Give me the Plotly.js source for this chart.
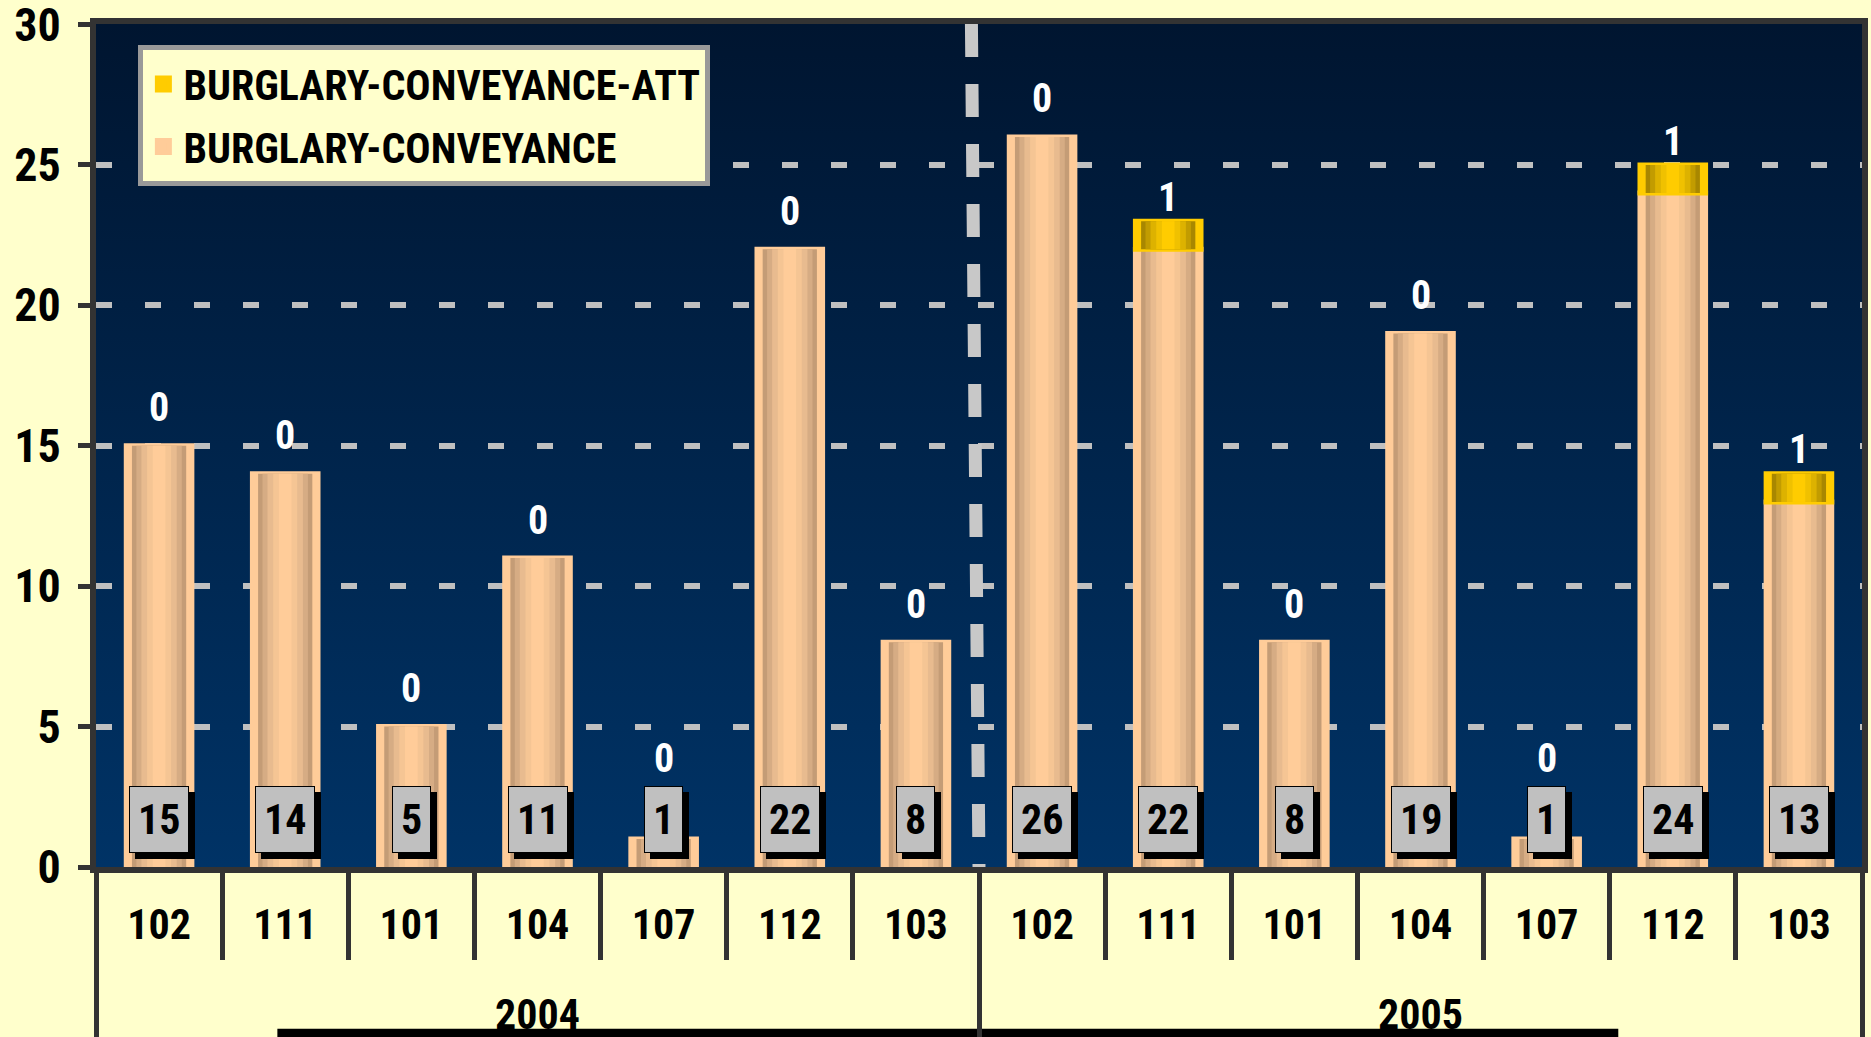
<!DOCTYPE html>
<html><head><meta charset="utf-8">
<script src="https://cdn.plot.ly/plotly-3.0.1.min.js"></script>
<style>html,body{margin:0;padding:0;background:#FFFFCC;} #chart{width:1871px;height:1037px;}
.annotation rect.bg{filter:drop-shadow(6px 6px 0 #000000);}</style>
</head><body><div id="chart"></div>
<script>
// ---- data ----
const years = ['2004','2004','2004','2004','2004','2004','2004','2005','2005','2005','2005','2005','2005','2005'];
const stations = ['102','111','101','104','107','112','103','102','111','101','104','107','112','103'];
const conveyance = [15,14,5,11,1,22,8,26,22,8,19,1,24,13];
const conveyanceAtt = [0,0,0,0,0,0,0,0,1,0,0,0,1,1];
const seriesNames = ['BURGLARY-CONVEYANCE-ATT','BURGLARY-CONVEYANCE'];
const yTickVals = [0,5,10,15,20,25,30];

// ---- style ----
const FONT = '"Roboto Condensed", "Liberation Sans Narrow", "Arial Narrow", sans-serif';
const layerWidths = [0.52,0.43,0.36,0.28,0.19,0.10];
const convColors = ['#FFCC99','#C49C76','#D6AC84','#E8BB8F','#F5C594','#FFCC99'];
const attColors = ['#FFCC00','#A88700','#C29C00','#DDB200','#F0C100','#FFCC00'];
// second (blank) line under each station label pushes the year row down
const stationLabels = stations.map(s => s + '<br>\u00a0');
const x = [years, stationLabels];
// zero-height segments are left out so that their outline is not drawn
const attSegments = conveyanceAtt.map(a => (a > 0 ? a : null));

const traces = [];
layerWidths.forEach((w,k)=>{
  traces.push({type:'bar', x:x, y:conveyance, width:w, name:seriesNames[1],
    showlegend:k===0, legendrank:2, legendgroup:'conv',
    marker:{color:convColors[k], line:{width:k===0?5:0, color:convColors[0]}}, hoverinfo:'skip'});
});
layerWidths.forEach((w,k)=>{
  traces.push({type:'bar', x:x, y:attSegments, base:conveyance, width:w, name:seriesNames[0],
    showlegend:k===0, legendrank:1, legendgroup:'att',
    marker:{color:attColors[k], line:{width:k===0?5:0, color:attColors[0]}}, hoverinfo:'skip'});
});

const annotations = [];
const BOX_Y = 1.7;        // vertical position of the grey value boxes
const LABEL_MIN_Y = 2.5;  // top labels are kept above the grey boxes
conveyance.forEach((v,i)=>{
  annotations.push({x:i, y:BOX_Y, xref:'x', yref:'y', text:String(v), showarrow:false,
    font:{family:FONT, size:42, color:'#000000', weight:'bold'},
    bgcolor:'#C0C0C0', bordercolor:'#000000', borderwidth:1, borderpad:8});
  annotations.push({x:i, y:Math.max(v + conveyanceAtt[i]/2, LABEL_MIN_Y), xref:'x', yref:'y',
    text:String(conveyanceAtt[i]), showarrow:false, yshift:38,
    font:{family:FONT, size:40, color:'#FFFFFF', weight:'bold'}});
});

const bgSvg = 'data:image/svg+xml;utf8,' + encodeURIComponent(
  '<svg xmlns="http://www.w3.org/2000/svg" width="10" height="100" preserveAspectRatio="none">' +
  '<defs><linearGradient id="g" x1="0" y1="0" x2="0" y2="1">' +
  '<stop offset="0" stop-color="#001530"/><stop offset="1" stop-color="#003366"/></linearGradient></defs>' +
  '<rect width="10" height="100" fill="url(#g)"/></svg>');

const layout = {
  width:1871, height:1037,
  paper_bgcolor:'#FFFFCC', plot_bgcolor:'#003366',
  margin:{l:96, r:9, t:24, b:170},
  barmode:'overlay', hovermode:false,
  font:{family:FONT, size:42, color:'#000000', weight:'bold'},
  showlegend:true,
  legend:{x:0.024, y:0.975, xanchor:'left', yanchor:'top', bgcolor:'#FFFFCC',
    bordercolor:'#999999', borderwidth:5, traceorder:'grouped', tracegroupgap:5,
    font:{family:FONT, size:42, color:'#000000', weight:'bold'}},
  xaxis:{type:'multicategory', showline:true, linecolor:'#333333', linewidth:6, mirror:true,
    ticks:'outside', tickson:'boundaries', ticklen:87, tickwidth:5, tickcolor:'#333333',
    ticklabelstandoff:16,
    showdividers:true, dividercolor:'#333333', dividerwidth:5,
    tickfont:{family:FONT, size:42, color:'#000000', weight:'bold'},
    showgrid:false, automargin:false},
  yaxis:{range:[0,30.02], tickvals:yTickVals, showline:true, linecolor:'#333333', linewidth:6, mirror:true,
    ticks:'outside', ticklen:12, tickwidth:5, tickcolor:'#333333', ticklabelstandoff:8,
    ticklabeloverflow:'allow',
    showgrid:true, gridcolor:'#C0C0C0', gridwidth:6, griddash:'16px,33px', zeroline:false,
    tickfont:{family:FONT, size:46, color:'#000000', weight:'bold'}, automargin:false},
  images:[{source:bgSvg, xref:'paper', yref:'paper', x:0, y:1, sizex:1, sizey:1,
    xanchor:'left', yanchor:'top', sizing:'stretch', layer:'below'}],
  shapes:[
    {type:'line', xref:'x', yref:'paper', x0:6.44, x1:6.5, y0:1, y1:0,
      line:{color:'#C8C8C8', width:13, dash:'33px,27px'}},
    {type:'rect', xref:'paper', yref:'paper', x0:0.1027, x1:0.862, y0:-0.192, y1:-0.205,
      fillcolor:'#000000', line:{width:0}, layer:'below'}
  ],
  annotations:annotations
};

Plotly.newPlot('chart', traces, layout, {displayModeBar:false, staticPlot:true});
</script>
</body></html>
